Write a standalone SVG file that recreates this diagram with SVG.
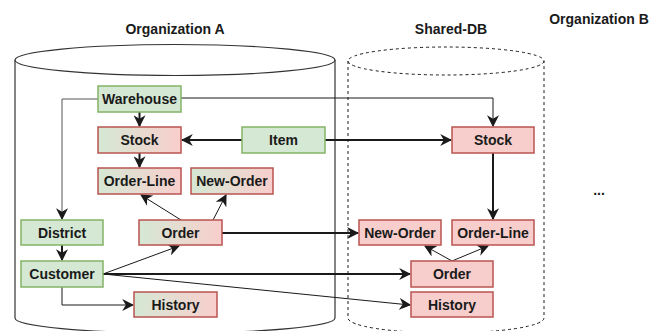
<svg xmlns="http://www.w3.org/2000/svg" width="664" height="331" viewBox="0 0 664 331">
<defs>
<linearGradient id="gr" x1="0" y1="0" x2="1" y2="0"><stop offset="0" stop-color="#d5e8d4"/><stop offset="1" stop-color="#f8cecc"/></linearGradient>
<marker id="ah" viewBox="0 0 10 10" refX="9" refY="5" markerWidth="12" markerHeight="12" markerUnits="userSpaceOnUse" orient="auto"><path d="M0,0 L10,5 L0,10 L3,5 Z" fill="#1a1a1a"/></marker>
</defs>
<style>
text{font-family:"Liberation Sans",Arial,sans-serif;font-weight:bold;font-size:14px;fill:#1a1a1a;text-anchor:middle;dominant-baseline:central}
.g{fill:#d5e8d4;stroke:#82b366;stroke-width:1.5}
.m{fill:url(#gr);stroke:#b85450;stroke-width:1.5}
.r{fill:#f8cecc;stroke:#b85450;stroke-width:1.5}
.cyl{fill:#fff;stroke:#333;stroke-width:1.2}
.dash{fill:none;stroke:#1a1a1a;stroke-width:1;stroke-dasharray:3 3}
.e{fill:none;stroke:#1a1a1a;stroke-width:1;marker-end:url(#ah)}
.gy{stroke:#555}
.t{fill:none;stroke:#1a1a1a;stroke-width:2;marker-end:url(#ah)}
</style>
<g id="cylA">
<path class="cyl" d="M15,60 L15,318 A160,15 0 0 0 335,318 L335,60"/>
<ellipse class="cyl" cx="175" cy="60" rx="160" ry="15.5"/>
<text x="175" y="29">Organization A</text>
</g>
<g id="cylB">
<path class="dash" d="M348,61 L348,318 A98,15 0 0 0 544,318 L544,61"/>
<ellipse class="dash" cx="446" cy="61" rx="98" ry="14"/>
<text x="451" y="29">Shared-DB</text>
</g>
<text x="599" y="19">Organization B</text>
<text x="599" y="190">...</text>
<g id="edges">
<path class="e gy" d="M98,99 L62,99 L62,219"/>
<path class="e" d="M181,98 L493,98 L493,126"/>
<path class="t" d="M139.5,112 L139.5,126"/>
<path class="t" d="M242,140 L182,140"/>
<path class="t" d="M325,140 L451,140"/>
<path class="t" d="M139.5,153 L139.5,167"/>
<path class="t" d="M493,153 L493,219"/>
<path class="e" d="M181,220 L141,195"/>
<path class="e" d="M213,220 L226,195"/>
<path class="t" d="M62,245 L62,260"/>
<path class="e" d="M103,274 L179,246"/>
<path class="t" d="M103,274 L410,274"/>
<path class="e" d="M103,274 L410,305"/>
<path class="e" d="M62,287 L62,305 L133,305"/>
<path class="t" d="M222,233 L358,233"/>
<path class="e" d="M452,261 L425,246"/>
<path class="e" d="M452,261 L488,246"/>
</g>
<g id="warehouse"><rect class="g" x="98" y="86" width="83" height="26"/><text x="139.5" y="99">Warehouse</text></g>
<g id="stockA"><rect class="m" x="98" y="127" width="83" height="26"/><text x="139.5" y="140">Stock</text></g>
<g id="item"><rect class="g" x="242" y="127" width="83" height="26"/><text x="283.5" y="140">Item</text></g>
<g id="orderlineA"><rect class="m" x="98" y="168" width="83" height="26"/><text x="139.5" y="181">Order-Line</text></g>
<g id="neworderA"><rect class="m" x="191" y="168" width="82" height="26"/><text x="232" y="181">New-Order</text></g>
<g id="district"><rect class="g" x="21" y="220" width="82" height="25"/><text x="62" y="232.5">District</text></g>
<g id="orderA"><rect class="m" x="139" y="220" width="83" height="25"/><text x="180.5" y="232.5">Order</text></g>
<g id="customer"><rect class="g" x="21" y="261" width="82" height="26"/><text x="62" y="274">Customer</text></g>
<g id="historyA"><rect class="m" x="134" y="292" width="83" height="25"/><text x="175.5" y="304.5">History</text></g>
<g id="stockB"><rect class="r" x="452" y="127" width="82" height="26"/><text x="493" y="140">Stock</text></g>
<g id="neworderB"><rect class="r" x="359" y="220" width="82" height="25"/><text x="400" y="232.5">New-Order</text></g>
<g id="orderlineB"><rect class="r" x="452" y="220" width="82" height="25"/><text x="493" y="232.5">Order-Line</text></g>
<g id="orderB"><rect class="r" x="411" y="261" width="82" height="26"/><text x="452" y="274">Order</text></g>
<g id="historyB"><rect class="r" x="411" y="292" width="82" height="25"/><text x="452" y="304.5">History</text></g>
</svg>
